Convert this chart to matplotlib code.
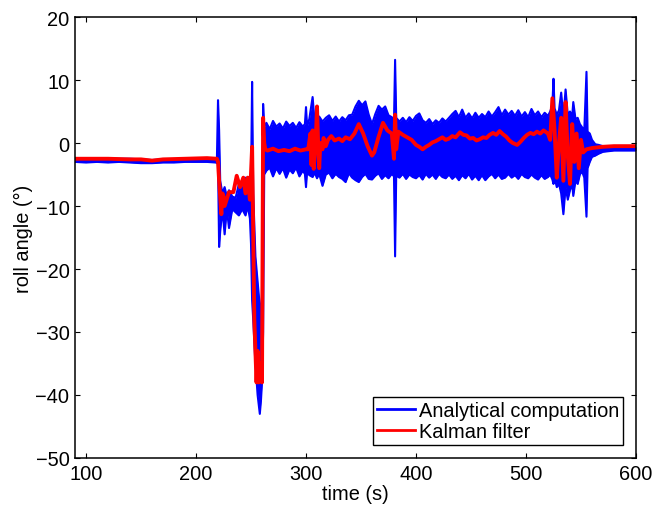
import numpy as np
import matplotlib.pyplot as plt

plt.rcParams['font.family'] = ['Liberation Sans', 'DejaVu Sans']

# analytical computation: envelope of the noisy roll angle (time s, upper / lower deg)
t_an = [90, 100, 110, 120, 130, 140, 150, 160, 170, 180, 190, 200, 210, 218,
        219, 220, 221, 222, 224, 226, 228, 230, 233, 236, 239, 242, 245, 247, 249,
        250, 251, 252, 254, 256, 258, 259, 260, 261, 262,
        264, 267, 270, 273, 276, 279, 282, 285, 288, 291, 294, 297, 299, 300, 301,
        303, 306, 308, 310, 312, 315, 318, 321, 324, 327, 330, 333, 336, 339, 342,
        345, 348, 351, 354, 357, 360, 363, 366, 369, 372, 375, 378, 380, 381, 382,
        385, 388, 391, 394, 397, 400, 403, 406, 409, 412, 415, 418, 421, 424, 427,
        430, 433, 436, 439, 442, 445, 448, 451, 454, 457, 460, 463, 466, 469, 472,
        475, 478, 481, 484, 487, 490, 493, 496, 499, 502, 505, 508, 511, 514, 517,
        520, 522, 524, 525, 526, 528, 530, 532, 534, 536, 538, 540, 542, 543, 545,
        547, 549, 551, 553, 555, 556, 558, 560, 563, 566, 570, 575, 580, 590, 600]
hi_an = [-2.4, -2.4, -2.5, -2.4, -2.5, -2.5, -2.6, -2.7, -2.6, -2.6, -2.5, -2.5, -2.4, -2.4,
         -2.5, 6.8, 2.0, -6.0, -8.0, -7.0, -8.5, -7.5, -8.5, -8.7, -6.5, -7.5, -5.5, -7.0, -5.5,
         -6.0, 9.7, -8.0, -18.0, -22.0, -26.0, -28.0, -24.0, 6.2, 2.5,
         3.2, 2.2, 3.5, 2.6, 3.1, 2.3, 3.4, 2.7, 3.2, 2.4, 3.3, 2.6, 3.0, 5.7, 2.6,
         3.8, 7.3, 3.0, 3.7, 4.2, 3.4, 4.0, 4.4, 3.5, 4.2, 3.4, 4.1, 3.6, 4.4, 4.5,
         5.8, 6.7, 6.0, 6.6, 4.5, 3.0, 4.6, 5.9, 5.3, 5.8, 4.4, 4.1, 3.6, 13.2, 4.0,
         3.4, 4.0, 3.3, 4.1, 3.5, 4.3, 4.7, 3.6, 3.2, 3.8, 3.0, 3.6, 3.2, 3.9, 3.4,
         4.0, 4.6, 5.1, 4.1, 5.3, 4.0, 4.7, 3.9, 4.8, 4.0, 4.6, 4.1, 5.0, 4.2, 4.9,
         5.7, 4.4, 5.3, 4.5, 5.1, 4.3, 5.2, 4.2, 4.9, 4.1, 5.4, 4.4, 5.0, 4.1, 4.8,
         4.3, 5.0, 6.0, 10.2, 5.5, 4.5, 5.2, 8.0, 4.0, 8.5, 4.5, 5.0, 4.2, 6.5, 3.8,
         4.0, 3.0, 2.5, 2.0, 11.3, 1.8, 1.5, 0.5, -0.2, -0.3, -0.5, -0.6, -0.7, -0.7, -0.6]
lo_an = [-3.0, -3.1, -3.0, -3.1, -3.0, -3.1, -3.2, -3.2, -3.1, -3.1, -3.0, -3.0, -3.0, -3.1,
         -3.2, -3.0, -16.5, -14.0, -10.5, -14.5, -10.5, -13.5, -10.5, -11.0, -11.5, -10.5, -11.5, -10.0, -12.0,
         -16.0, -25.0, -28.0, -35.0, -40.0, -43.0, -41.0, -38.0, -30.0, -5.0,
         -4.4, -3.9, -5.3, -4.0, -4.9, -4.0, -5.5, -4.2, -4.8, -3.9, -5.3, -4.4, -4.9, -7.0, -4.6,
         -5.1, -5.4, -4.7, -5.6, -4.9, -6.8, -5.0, -4.7, -5.6, -4.9, -5.4, -5.7, -6.2, -4.8, -5.5,
         -5.9, -6.2, -5.4, -4.9, -5.7, -5.8, -5.2, -4.8, -5.7, -5.1, -5.6, -4.9, -5.3, -18.0, -5.2,
         -5.5, -4.9, -5.7, -5.0, -5.4, -5.6, -5.1, -5.8, -4.9, -5.5, -5.0, -5.7, -4.9, -5.4, -5.6,
         -5.0, -5.7, -5.2, -5.9, -5.1, -5.6, -4.9, -5.8, -5.2, -5.9, -5.1, -5.9, -5.3, -4.9, -5.6,
         -5.0, -5.7, -5.5, -4.9, -5.5, -5.1, -5.7, -4.9, -5.4, -5.6, -5.0, -5.5, -5.8, -5.1, -5.7,
         -5.4, -5.0, -5.8, -6.5, -5.5, -7.0, -6.5, -8.0, -11.3, -7.0, -9.0, -7.5, -6.5, -8.4, -6.0,
         -6.5, -5.0, -4.5, -5.5, -11.7, -4.0, -3.0, -2.2, -2.0, -1.7, -1.4, -1.3, -1.2, -1.2, -1.2]

# Kalman filter estimate
t_kf = [90, 100, 120, 140, 150, 160, 170, 190, 210, 219,
        220, 221, 223, 224, 225, 226, 230, 234, 237, 240, 243, 245, 247, 249,
        251, 252, 253, 255, 256, 257, 259, 260, 261, 262, 263, 265, 270, 275, 280, 285, 290, 295, 300,
        302, 304, 305, 306, 307, 309, 310, 311, 312, 313, 315, 316, 318, 320, 323, 326,
        330, 333, 336, 340, 344, 348, 352, 356, 360, 362, 366, 370, 374, 378, 380, 381,
        382, 384, 388, 392, 396, 400, 403, 406, 409, 412, 415, 418, 421, 424, 427,
        430, 433, 436, 440, 443, 446, 449, 452, 455, 458, 461, 464, 467, 470, 473, 476,
        479, 482, 485, 488, 492, 495, 498, 501, 504, 507, 510, 513, 516, 520, 522, 524, 526,
        528, 530, 532, 534, 536, 538, 540, 542, 544, 546, 548, 550, 552, 555, 560,
        570, 580, 590, 600]
y_kf = [-2.5, -2.5, -2.5, -2.6, -2.6, -2.8, -2.6, -2.5, -2.4, -2.5,
        -3.0, -6.0, -11.3, -8.0, -8.5, -10.0, -7.8, -7.8, -5.2, -7.0, -5.5, -8.0, -5.5, -9.0,
        -0.6, -15.0, -28.0, -38.0, -33.0, -38.0, -35.0, -38.0, 4.0, 0.0, -1.0, -1.2, -0.9, -1.3, -1.1, -1.3, -0.9, -1.2, -1.0,
        -1.0, 1.5, -3.5, 2.0, -4.1, 1.0, 5.8, 0.0, -4.0, 0.0, -1.0, 0.8, -0.5, 0.5, 1.1, 0.4,
        0.7, 0.3, 0.9, 0.6, 1.5, 3.0, 1.5, -0.5, -2.0, -1.5, 1.0, 3.2, 2.0, 1.5, -2.5, 4.5,
        -1.0, 1.8, 1.3, 0.9, 0.5, -0.3, -0.6, -1.0, -0.6, -0.3, 0.1, 0.3, 0.6, 0.9, 0.5,
        0.7, 1.1, 0.9, 1.7, 1.3, 1.2, 0.7, 0.8, 0.4, 0.6, 0.9, 0.8, 1.3, 1.6, 1.3, 1.9,
        1.4, 1.0, 0.4, 0.0, -0.3, 0.2, 0.8, 1.3, 1.6, 1.4, 1.8, 1.5, 2.0, 1.5, 0.5, 7.1, 2.0,
        -5.5, 0.0, 4.0, -6.0, 6.5, -2.0, -6.5, 3.0, -3.0, 1.5, -4.0, 0.5, -1.5, -1.0, -0.8,
        -0.6, -0.5, -0.5, -0.5]

fig = plt.figure(figsize=(6.57, 5.06), dpi=100)
ax = fig.add_axes([0.1142, 0.0929, 0.8538, 0.8715])

blue = '#0000ff'
red = '#ff0000'
ax.fill_between(t_an, lo_an, hi_an, color=blue, lw=0)
ax.plot(t_an, hi_an, color=blue, lw=1.5, label='Analytical computation')
ax.plot(t_an, lo_an, color=blue, lw=1.5)
ax.plot(t_kf, y_kf, color=red, lw=2.8, label='Kalman filter')

ax.set_xlim(90, 600)
ax.set_ylim(-50, 20)
ax.set_xticks([100, 200, 300, 400, 500, 600])
ax.set_yticks([-50, -40, -30, -20, -10, 0, 10, 20])
ax.set_yticklabels(['\u221250', '\u221240', '\u221230', '\u221220', '\u221210', '0', '10', '20'])
ax.tick_params(direction='in', top=True, right=True, length=3.5, width=0.8, labelsize=14.4, pad=4)
for s in ax.spines.values():
    s.set_linewidth(1.1)

ax.set_xlabel('time (s)', fontsize=14.4, labelpad=1)
ax.set_ylabel('roll angle (°)', fontsize=14.4, labelpad=2)

leg = ax.legend(loc='lower right', fontsize=14.4, fancybox=False, framealpha=1,
                edgecolor='black', handlelength=1.9, borderpad=0.2, labelspacing=0.1,
                handletextpad=0.2, borderaxespad=0.65)
leg.get_frame().set_linewidth(1.0)
for h in leg.get_lines():
    h.set_linewidth(2.0)

fig.savefig('out.png', dpi=100)
